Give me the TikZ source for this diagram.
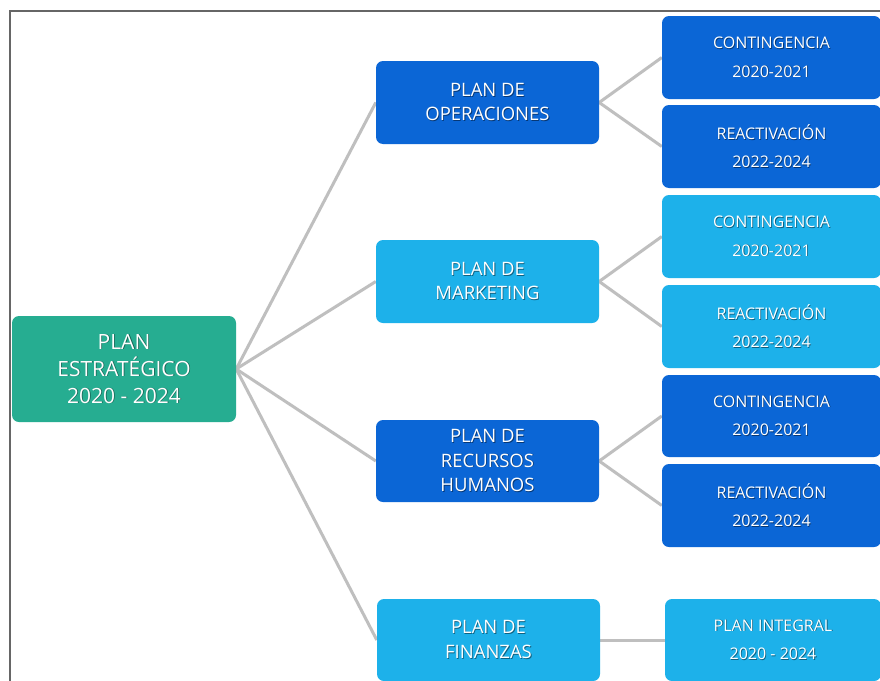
\documentclass[tikz,border=0pt]{standalone}
\usepackage{fontspec}
\setmainfont{Open Sans}
\usetikzlibrary{backgrounds}
\definecolor{teal1}{HTML}{26AD91}
\definecolor{dblue}{HTML}{0B66D6}
\definecolor{lblue}{HTML}{1DB1EA}
\definecolor{conn}{HTML}{BFBFBF}
\definecolor{frame}{HTML}{666666}
\colorlet{shc}{black}
\newcommand\sh[1]{\leavevmode\rlap{\hspace{0.8pt}\raisebox{-0.8pt}{\textcolor{shc}{#1}}}#1}
\tikzset{
  box/.style={rounded corners=7pt, text=white, align=center, inner sep=0pt, draw=none},
  rootbox/.style={box, fill=teal1, minimum width=224pt, minimum height=106pt,
    font=\colorlet{shc}{teal1!55!black}\fontsize{21}{27}\selectfont},
  lonebox/.style={box, minimum width=223pt, minimum height=83pt},
  ltwobox/.style={box, minimum width=219pt, minimum height=83pt},
  lonedark/.style={lonebox, fill=dblue, font=\colorlet{shc}{dblue!55!black}\fontsize{18.5}{24.5}\selectfont},
  lonelight/.style={lonebox, fill=lblue, font=\colorlet{shc}{lblue!55!black}\fontsize{18.5}{24.5}\selectfont},
  ltwodark/.style={ltwobox, fill=dblue, font=\colorlet{shc}{dblue!55!black}\fontsize{16}{28.5}\selectfont},
  ltwolight/.style={ltwobox, fill=lblue, font=\colorlet{shc}{lblue!55!black}\fontsize{16}{28.5}\selectfont},
  link/.style={draw=conn, line width=3pt},
}
\begin{document}
\begin{tikzpicture}[x=1pt,y=-1pt]
\useasboundingbox (0,0) rectangle (880,680);
\clip (0,0) rectangle (880,680);
% root
\node[rootbox] (root) at (124,369) {\sh{PLAN}\\\sh{ESTRATÉGICO}\\\sh{2020 - 2024}};
% level 1
\node[lonedark] (op) at (487.5,102.5) {\sh{PLAN DE}\\\sh{OPERACIONES}};
\node[lonelight] (mk) at (487.5,281.5) {\sh{PLAN DE}\\\sh{MARKETING}};
\node[lonedark, minimum height=82pt] (rh) at (487.5,461) {\sh{PLAN DE}\\\sh{RECURSOS}\\\sh{HUMANOS}};
\node[lonelight, minimum height=82pt] (fi) at (488.5,640) {\sh{PLAN DE}\\\sh{FINANZAS}};
% level 2
\node[ltwodark] (c1) at (771.5,57.5) {\sh{CONTINGENCIA}\\\sh{2020-2021}};
\node[ltwodark] (r1) at (771.5,146.5) {\sh{REACTIVACIÓN}\\\sh{2022-2024}};
\node[ltwolight] (c2) at (771.5,236.5) {\sh{CONTINGENCIA}\\\sh{2020-2021}};
\node[ltwolight] (r2) at (771.5,326.5) {\sh{REACTIVACIÓN}\\\sh{2022-2024}};
\node[ltwodark, minimum height=82pt] (c3) at (771.5,416) {\sh{CONTINGENCIA}\\\sh{2020-2021}};
\node[ltwodark] (r3) at (771.5,505.5) {\sh{REACTIVACIÓN}\\\sh{2022-2024}};
\node[ltwolight, minimum width=216pt, minimum height=82pt] (pi) at (773,640) {\sh{PLAN INTEGRAL}\\\sh{2020 - 2024}};
\begin{scope}[on background layer]
  \fill[white] (0,0) rectangle (880,680);
  \draw[frame, line width=2pt] (9.5,681) -- (9.5,11) -- (881,11);
  \draw[link] (root.east) -- (op.west);
  \draw[link] (root.east) -- (mk.west);
  \draw[link] (root.east) -- (rh.west);
  \draw[link] (root.east) -- (fi.west);
  \draw[link] (op.east) -- (c1.west);
  \draw[link] (op.east) -- (r1.west);
  \draw[link] (mk.east) -- (c2.west);
  \draw[link] (mk.east) -- (r2.west);
  \draw[link] (rh.east) -- (c3.west);
  \draw[link] (rh.east) -- (r3.west);
  \draw[link] (fi.east) -- (pi.west);
\end{scope}
\end{tikzpicture}
\end{document}
